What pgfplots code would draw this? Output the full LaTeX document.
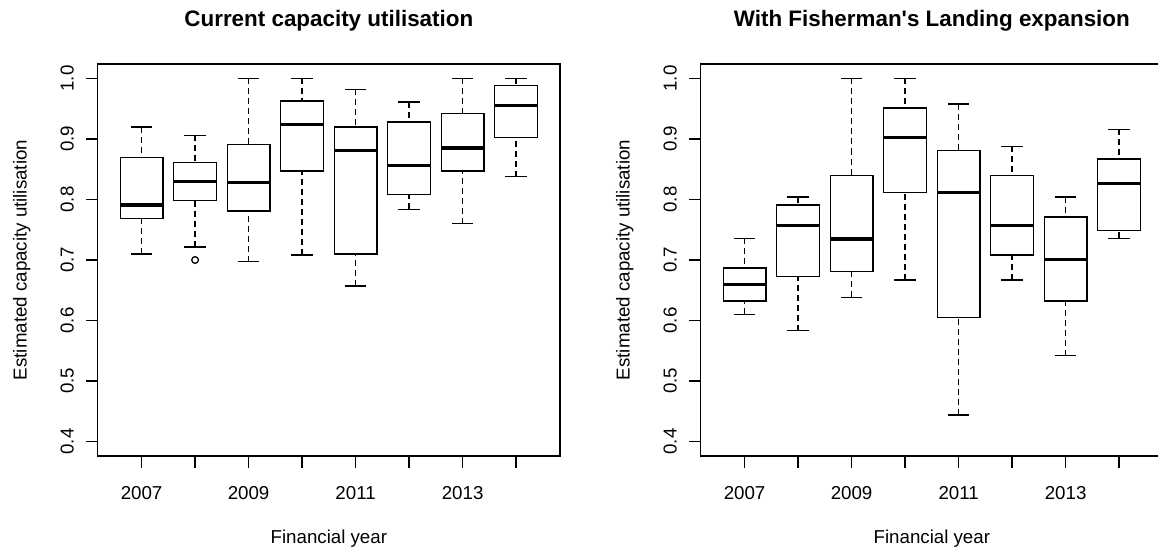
\documentclass[border=0pt]{standalone}
\usepackage{pgfplots}
\pgfplotsset{compat=1.18}
\usepgfplotslibrary{statistics}
\usepackage{fontspec}
\setmainfont{Liberation Sans}
\newfontfamily\rfont{Liberation Sans}
\newcommand\nfont{\rfont\fontsize{9.35}{11}\selectfont}
\newcommand\tfont{\rfont\bfseries\fontsize{11.2}{13}\selectfont}

\pgfplotsset{
 rstyle/.style={
  scale only axis, width=231.15pt, height=196pt,
  xmin=0.18, xmax=8.82, ymin=0.376, ymax=1.024,
  axis line style={line width=0.65pt, black},
  every tick/.style={line width=0.65pt, black},
  tick align=outside, xtick pos=left, ytick pos=left,
  major tick length=5.85pt,
  xtick={1,2,3,4,5,6,7,8}, xticklabels={2007,,2009,,2011,,2013,},
  ytick={0.4,0.5,0.6,0.7,0.8,0.9,1.0},
  yticklabels={0.4,0.5,0.6,0.7,0.8,0.9,1.0},
  tick label style={font=\nfont, inner sep=0pt},
  xticklabel style={anchor=base, yshift=-15.8pt},
  yticklabel style={rotate=90, anchor=base},
  yticklabel shift=6.2pt,
  every axis x label/.style={at={(axis description cs:0.5,-0.2232)}, anchor=base, font=\nfont, inner sep=0pt},
  every axis y label/.style={at={(axis description cs:-0.1536,0.5)}, rotate=90, anchor=base, font=\nfont, inner sep=0pt},
  every axis title/.style={at={(axis description cs:0.5,1.0952)}, anchor=base, font=\tfont, inner sep=0pt},
  xlabel={Financial year},
  ylabel={Estimated capacity utilisation},
  boxplot/draw direction=y,
  boxplot/box extend=0.8,
  boxplot/whisker extend=0.4,
  boxplot/every box/.style={line width=0.65pt, black},
  boxplot/every median/.style={line width=1.7pt, black},
  boxplot/draw/lower whisker/.code={
    \draw[line width=0.65pt, black, dash pattern=on 3pt off 2pt]
      (boxplot box cs:\pgfplotsboxplotvalue{lower whisker},0.5) --
      (boxplot box cs:\pgfplotsboxplotvalue{lower quartile},0.5);
    \draw[line width=0.65pt, black]
      (boxplot whisker cs:\pgfplotsboxplotvalue{lower whisker},0) --
      (boxplot whisker cs:\pgfplotsboxplotvalue{lower whisker},1);
  },
  boxplot/draw/upper whisker/.code={
    \draw[line width=0.65pt, black, dash pattern=on 3pt off 2pt]
      (boxplot box cs:\pgfplotsboxplotvalue{upper whisker},0.5) --
      (boxplot box cs:\pgfplotsboxplotvalue{upper quartile},0.5);
    \draw[line width=0.65pt, black]
      (boxplot whisker cs:\pgfplotsboxplotvalue{upper whisker},0) --
      (boxplot whisker cs:\pgfplotsboxplotvalue{upper whisker},1);
  },
 },
 rbox/.style={black, line width=0.65pt, mark=o, mark size=1.67pt, mark options={line width=0.65pt, solid}},
}

\begin{document}
\begin{tikzpicture}
\useasboundingbox (0,0) rectangle (579pt,275pt);
% Left panel
\begin{axis}[rstyle, at={(48.85pt,47pt)}, anchor=south west,
  title={Current capacity utilisation}]
\addplot[rbox, boxplot prepared={draw position=1, lower whisker=0.710, lower quartile=0.769, median=0.791, upper quartile=0.869, upper whisker=0.920}] coordinates {};
\addplot[rbox, boxplot prepared={draw position=2, lower whisker=0.7215, lower quartile=0.798, median=0.830, upper quartile=0.861, upper whisker=0.906}] coordinates {(2,0.700)};
\addplot[rbox, boxplot prepared={draw position=3, lower whisker=0.697, lower quartile=0.781, median=0.828, upper quartile=0.891, upper whisker=1.000}] coordinates {};
\addplot[rbox, boxplot prepared={draw position=4, lower whisker=0.708, lower quartile=0.847, median=0.924, upper quartile=0.963, upper whisker=1.000}] coordinates {};
\addplot[rbox, boxplot prepared={draw position=5, lower whisker=0.657, lower quartile=0.710, median=0.881, upper quartile=0.920, upper whisker=0.982}] coordinates {};
\addplot[rbox, boxplot prepared={draw position=6, lower whisker=0.784, lower quartile=0.808, median=0.856, upper quartile=0.928, upper whisker=0.961}] coordinates {};
\addplot[rbox, boxplot prepared={draw position=7, lower whisker=0.760, lower quartile=0.847, median=0.885, upper quartile=0.942, upper whisker=1.000}] coordinates {};
\addplot[rbox, boxplot prepared={draw position=8, lower whisker=0.838, lower quartile=0.902, median=0.955, upper quartile=0.988, upper whisker=1.000}] coordinates {};
\end{axis}
% Right panel
\begin{axis}[rstyle, at={(350.35pt,47pt)}, anchor=south west,
  title={With Fisherman's Landing expansion}]
\addplot[rbox, boxplot prepared={draw position=1, lower whisker=0.610, lower quartile=0.632, median=0.659, upper quartile=0.687, upper whisker=0.736}] coordinates {};
\addplot[rbox, boxplot prepared={draw position=2, lower whisker=0.583, lower quartile=0.673, median=0.757, upper quartile=0.791, upper whisker=0.804}] coordinates {};
\addplot[rbox, boxplot prepared={draw position=3, lower whisker=0.638, lower quartile=0.681, median=0.735, upper quartile=0.840, upper whisker=1.000}] coordinates {};
\addplot[rbox, boxplot prepared={draw position=4, lower whisker=0.667, lower quartile=0.812, median=0.902, upper quartile=0.951, upper whisker=1.000}] coordinates {};
\addplot[rbox, boxplot prepared={draw position=5, lower whisker=0.444, lower quartile=0.605, median=0.812, upper quartile=0.881, upper whisker=0.958}] coordinates {};
\addplot[rbox, boxplot prepared={draw position=6, lower whisker=0.667, lower quartile=0.708, median=0.757, upper quartile=0.840, upper whisker=0.888}] coordinates {};
\addplot[rbox, boxplot prepared={draw position=7, lower whisker=0.542, lower quartile=0.632, median=0.701, upper quartile=0.771, upper whisker=0.804}] coordinates {};
\addplot[rbox, boxplot prepared={draw position=8, lower whisker=0.736, lower quartile=0.749, median=0.826, upper quartile=0.867, upper whisker=0.916}] coordinates {};
\end{axis}
\end{tikzpicture}
\end{document}
